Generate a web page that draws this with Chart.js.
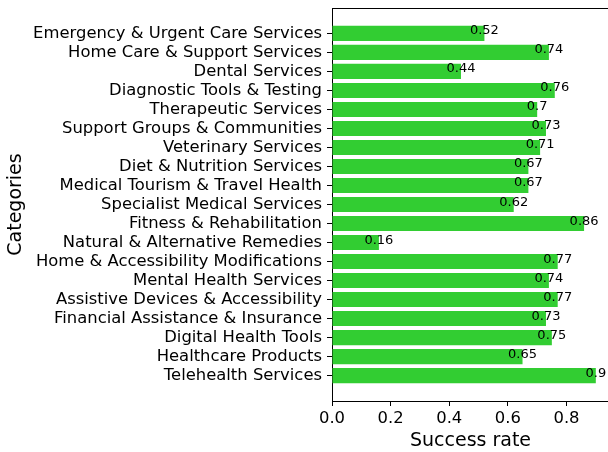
<!DOCTYPE html>
<html>
<head>
<meta charset="utf-8">
<script src="https://cdn.jsdelivr.net/npm/chart.js@4"></script>
<style>
    html, body { margin: 0; padding: 0; background: #fff; overflow: hidden; }
    #wrap { width: 608px; height: 452px; overflow: hidden; }
</style>
</head>
<body>
<div id="wrap"><canvas id="chart" width="611" height="452"></canvas></div>
<script>
// Categories, top to bottom as drawn
const categories = [
    'Emergency & Urgent Care Services',
    'Home Care & Support Services',
    'Dental Services',
    'Diagnostic Tools & Testing',
    'Therapeutic Services',
    'Support Groups & Communities',
    'Veterinary Services',
    'Diet & Nutrition Services',
    'Medical Tourism & Travel Health',
    'Specialist Medical Services',
    'Fitness & Rehabilitation',
    'Natural & Alternative Remedies',
    'Home & Accessibility Modifications',
    'Mental Health Services',
    'Assistive Devices & Accessibility',
    'Financial Assistance & Insurance',
    'Digital Health Tools',
    'Healthcare Products',
    'Telehealth Services'
];

const successRate = [0.52, 0.74, 0.44, 0.76, 0.7, 0.73, 0.71, 0.67, 0.67, 0.62,
                     0.86, 0.16, 0.77, 0.74, 0.77, 0.73, 0.75, 0.65, 0.9];

const xTicks = [0, 0.2, 0.4, 0.6, 0.8];

const FONT = 'DejaVu Sans';

// Value labels at the end of each bar
const valueLabels = {
    id: 'valueLabels',
    afterDatasetsDraw(chart) {
        const ctx = chart.ctx;
        const meta = chart.getDatasetMeta(0);
        ctx.save();
        ctx.font = `13px "${FONT}"`;
        ctx.fillStyle = '#000';
        ctx.textAlign = 'center';
        ctx.textBaseline = 'alphabetic';
        meta.data.forEach((bar, i) => {
            ctx.fillText(String(successRate[i]), bar.x, bar.y + 1);
        });
        ctx.restore();
    }
};

// Top and right spines
const spines = {
    id: 'spines',
    afterDraw(chart) {
        const { ctx, chartArea } = chart;
        ctx.save();
        ctx.strokeStyle = '#000';
        ctx.lineWidth = 1;
        ctx.beginPath();
        ctx.moveTo(chartArea.left, chartArea.top + 0.5);
        ctx.lineTo(chartArea.right + 0.5, chartArea.top + 0.5);
        ctx.lineTo(chartArea.right + 0.5, chartArea.bottom);
        ctx.stroke();
        ctx.restore();
    }
};

const ctx = document.getElementById('chart').getContext('2d');
new Chart(ctx, {
    type: 'bar',
    data: {
        datasets: [{
            data: successRate.map((v, i) => ({ x: v, y: i })),
            backgroundColor: '#32CD32',
            borderWidth: 0,
            barPercentage: 0.8,
            categoryPercentage: 1.0
        }]
    },
    options: {
        indexAxis: 'y',
        responsive: false,
        animation: false,
        layout: { padding: { top: 8, right: 2, left: 0, bottom: 0 } },
        plugins: {
            legend: { display: false },
            tooltip: { enabled: false }
        },
        scales: {
            x: {
                type: 'linear',
                min: 0,
                max: 0.945,
                afterBuildTicks: (scale) => {
                    scale.ticks = xTicks.map(v => ({ value: v }));
                },
                afterFit: (scale) => {
                    scale.height = 51;
                    scale.paddingLeft = 0;
                    scale.paddingRight = 0;
                },
                grid: {
                    offset: false,
                    drawOnChartArea: false,
                    drawTicks: true,
                    tickLength: 5,
                    color: '#000'
                },
                border: { display: true, color: '#000', width: 1 },
                ticks: {
                    color: '#000',
                    padding: 3,
                    font: { family: FONT, size: 16.4 },
                    callback: (v) => Number(v).toFixed(1)
                },
                title: {
                    display: true,
                    text: 'Success rate',
                    color: '#000',
                    font: { family: FONT, size: 19 },
                    padding: { top: 0, bottom: 0 }
                }
            },
            y: {
                type: 'linear',
                reverse: true,
                offset: false,
                min: -1.34,
                max: 19.34,
                afterBuildTicks: (scale) => {
                    scale.ticks = categories.map((c, i) => ({ value: i }));
                },
                afterFit: (scale) => {
                    scale.width = 332;
                    scale.paddingTop = 0;
                    scale.paddingBottom = 0;
                },
                grid: {
                    offset: false,
                    drawOnChartArea: false,
                    drawTicks: true,
                    tickLength: 5,
                    color: '#000'
                },
                border: { display: true, color: '#000', width: 1 },
                ticks: {
                    color: '#000',
                    padding: 5,
                    autoSkip: false,
                    font: { family: FONT, size: 16.4 },
                    callback: (v) => categories[v]
                },
                title: {
                    display: true,
                    text: 'Categories',
                    color: '#000',
                    font: { family: FONT, size: 19 },
                    padding: { top: 5, bottom: 0 }
                }
            }
        }
    },
    plugins: [valueLabels, spines]
});
</script>
</body>
</html>
